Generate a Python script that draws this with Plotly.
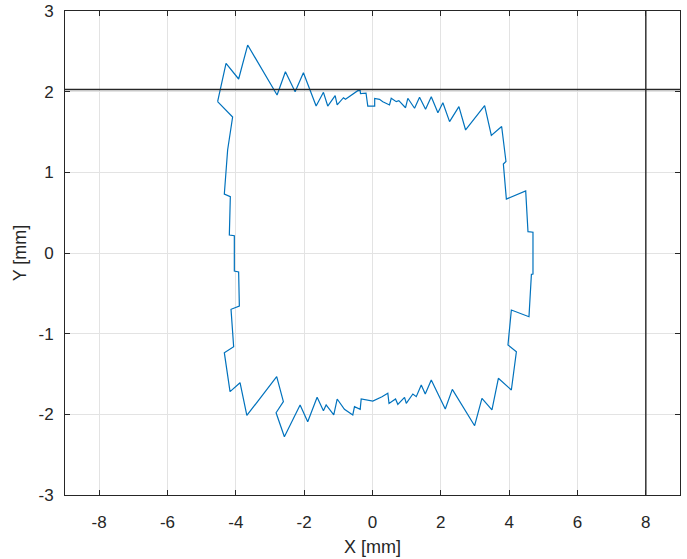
import plotly.graph_objects as go

# Traced contour (mm)
x_mm = [-4.533, -4.287, -3.918, -3.654, -2.793, -2.549, -2.265, -2.022, -1.650, -1.436,
        -1.310, -1.093, -1.034, -0.850, -0.791, -0.624, -0.431, -0.360, -0.352, -0.190,
        -0.138, 0.064, 0.064, 0.205, 0.302, 0.498, 0.548, 0.695, 0.771, 0.967,
        1.034, 1.231, 1.377, 1.553, 1.720, 1.914, 2.060, 2.256, 2.529, 2.725,
        3.282, 3.478, 3.780, 3.906, 3.830, 3.918, 4.484, 4.551, 4.697, 4.697,
        4.651, 4.580, 4.064, 3.965, 4.211, 4.064, 3.684, 3.496, 3.203, 2.989,
        2.336, 2.130, 1.720, 1.544, 1.427, 1.281, 1.181, 0.988, 0.938, 0.741,
        0.674, 0.484, 0.448, 0.278, 0.009, -0.331, -0.360, -0.527, -0.577, -0.821,
        -1.034, -1.134, -1.357, -1.436, -1.621, -1.896, -2.119, -2.579, -2.822, -2.608,
        -2.804, -3.678, -3.877, -4.170, -4.337, -4.064, -4.141, -3.897, -3.918, -4.044,
        -4.044, -4.190, -4.161, -4.337, -4.240, -4.094, -4.533]
y_mm = [1.876, 2.352, 2.157, 2.578, 1.959, 2.247, 2.000, 2.235, 1.822, 1.992,
        1.822, 1.950, 1.835, 1.925, 1.905, 1.959, 2.012, 2.012, 1.977, 1.983,
        1.822, 1.822, 1.915, 1.905, 1.876, 1.835, 1.918, 1.876, 1.888, 1.801,
        1.918, 1.794, 1.930, 1.781, 1.938, 1.739, 1.863, 1.628, 1.814, 1.525,
        1.826, 1.457, 1.568, 1.134, 1.103, 0.669, 0.769, 0.264, 0.257, -0.260,
        -0.264, -0.790, -0.707, -1.140, -1.224, -1.698, -1.553, -1.946, -1.801, -2.141,
        -1.690, -1.934, -1.574, -1.748, -1.636, -1.781, -1.748, -1.863, -1.789, -1.876,
        -1.810, -1.866, -1.739, -1.781, -1.835, -1.810, -1.938, -1.905, -2.008, -1.938,
        -1.810, -2.008, -1.884, -1.955, -1.789, -2.091, -1.884, -2.277, -1.980, -1.843,
        -1.533, -2.014, -1.608, -1.719, -1.236, -1.162, -0.698, -0.657, -0.236, -0.223,
        0.214, 0.223, 0.698, 0.731, 1.277, 1.686, 1.876]

# Reference lines
ref_x = [8.0]
ref_y = [2.027]

x_ticks = [-8, -6, -4, -2, 0, 2, 4, 6, 8]
y_ticks = [-3, -2, -1, 0, 1, 2, 3]

fig = go.Figure()
fig.add_trace(go.Scatter(x=x_mm, y=y_mm, mode="lines",
                         line=dict(color="#0072BD", width=1.2),
                         showlegend=False, hoverinfo="skip"))
for v in ref_x:
    fig.add_vline(x=v, line=dict(color="#262626", width=1.4))
for v in ref_y:
    fig.add_hline(y=v, line=dict(color="#262626", width=1.4))

fam = "Liberation Sans, Arial, sans-serif"
font = dict(family=fam, size=17, color="#262626")
axis_common = dict(showgrid=True, gridcolor="#e3e3e3", gridwidth=1,
                   showline=True, linecolor="#262626", linewidth=1, mirror="ticks",
                   ticks="inside", ticklen=5, tickcolor="#262626",
                   zeroline=False, tickfont=font, automargin=False)

fig.update_xaxes(range=[-9, 9], tickvals=x_ticks,
                 ticktext=[str(t) for t in x_ticks],
                 ticklabelstandoff=12,
                 title=dict(text="X [mm]", font=dict(family=fam, size=18, color="#262626"),
                            standoff=8),
                 **axis_common)
fig.update_yaxes(range=[-3, 3], tickvals=y_ticks,
                 ticktext=[str(t) for t in y_ticks],
                 ticklabelstandoff=7,
                 title=dict(text="Y [mm]", font=dict(family=fam, size=18, color="#262626"),
                            standoff=7),
                 **axis_common)

fig.update_layout(width=687, height=559,
                  margin=dict(l=65, r=7, t=11, b=64),
                  plot_bgcolor="white", paper_bgcolor="white",
                  font=font)

fig.write_html("out.html", config={"displayModeBar": False},
               post_script="document.body.style.margin='0';document.body.style.padding='0';")
